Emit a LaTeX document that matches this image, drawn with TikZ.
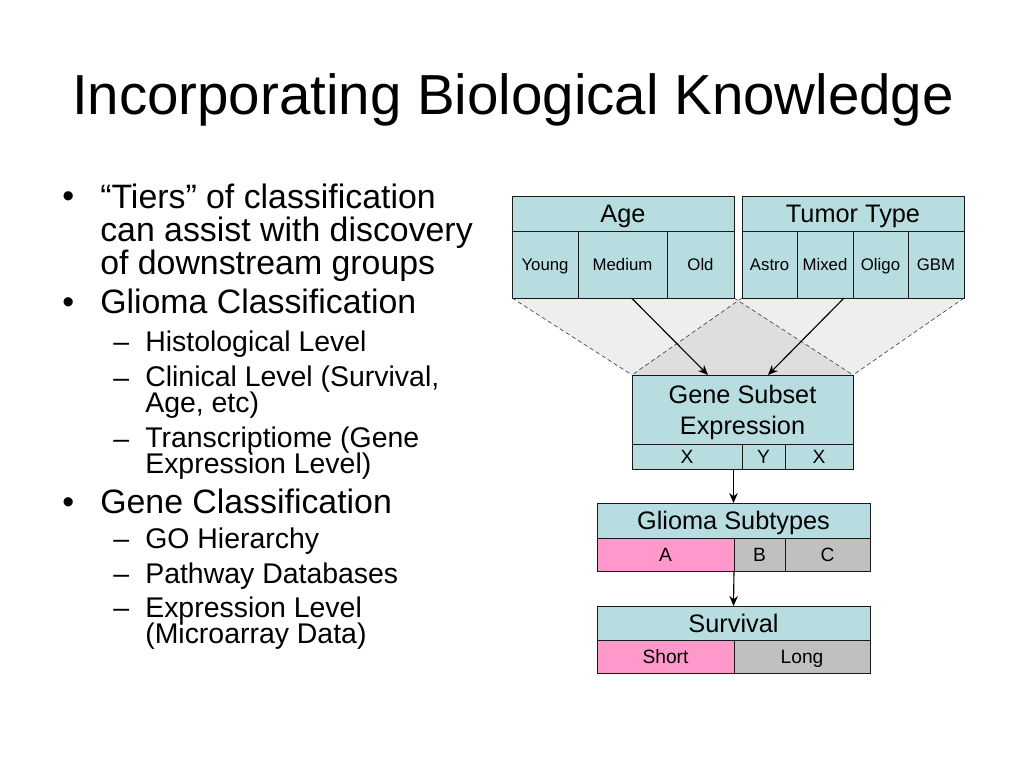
\documentclass[tikz,border=0pt]{standalone}
\usepackage{fontspec}
\setmainfont{Liberation Sans}
\usetikzlibrary{positioning,arrows.meta}
\definecolor{headcyan}{HTML}{B8DDE1}
\definecolor{cellpink}{HTML}{FF99CC}
\definecolor{cellgray}{HTML}{C0C0C0}
\def\pxu{0.703125pt}
\setlength{\lineskiplimit}{-20pt}

\begin{document}
\begin{tikzpicture}[x=\pxu,y=-\pxu,>={Stealth[length=7pt,width=6pt]},
    frame/.style={draw=black!90,line width=0.6pt,inner sep=0pt,outer sep=0pt},
    box/.style={frame,text depth=0pt},
    head/.style={box,fill=headcyan,text height=12.75pt,font=\fontsize{17.8}{20}\selectfont},
    cell/.style={box,fill=headcyan,text height=8.45pt,font=\fontsize{11.8}{14}\selectfont,minimum height=67*\pxu},
    part/.style={box,text height=9.67pt,font=\fontsize{13.5}{16}\selectfont},
    mainline/.style={anchor=base west,inner sep=0pt,align=left,font=\fontsize{23.8}{23.55}\selectfont},
    subline/.style={anchor=base west,inner sep=0pt,align=left,font=\fontsize{20}{17.9}\selectfont},
    funnel/.style={fill=black,opacity=0.065},
    guide/.style={draw=black!75,line width=0.45pt,dash pattern=on 3pt off 2pt}]
    \useasboundingbox[fill=white] (0,0) rectangle (1024,768);

    \node[anchor=base,inner sep=0pt,font=\fontsize{39.7}{44}\selectfont] (title) at (513,115) {Incorporating Biological Knowledge};

    % bullet list (multi-line nodes sit on their last baseline)
    \node[mainline] (dot1) at (62,208) {•};
    \node[mainline] (tiers) at (100,275) {“Tiers” of classification\\can assist with discovery\\of downstream groups};
    \node[mainline] (dot2) at (62,314) {•};
    \node[mainline] (glioma cls) at (100,314) {Glioma Classification};
    \node[subline] (dash1) at (113,351) {–};
    \node[subline] (histo) at (145,351) {Histological Level};
    \node[subline] (dash2) at (113,387) {–};
    \node[subline] (clinical) at (145,412) {Clinical Level (Survival,\\Age, etc)};
    \node[subline] (dash3) at (113,448) {–};
    \node[subline] (transcr) at (145,473) {Transcriptiome (Gene\\Expression Level)};
    \node[mainline] (dot3) at (62,513) {•};
    \node[mainline] (gene cls) at (100,513) {Gene Classification};
    \node[subline] (dash4) at (113,548) {–};
    \node[subline] (go) at (145,548) {GO Hierarchy};
    \node[subline] (dash5) at (113,583) {–};
    \node[subline] (pathway) at (145,583) {Pathway Databases};
    \node[subline] (dash6) at (113,617) {–};
    \node[subline] (exprlvl) at (145,643) {Expression Level\\(Microarray Data)};

    % age and tumor type
    \node[head,anchor=north west,minimum width=222*\pxu,minimum height=35*\pxu] (age) at (512,196) {Age};
    \node[cell,anchor=north west,minimum width=66*\pxu] (young) at (age.south west) {Young};
    \node[cell,right=0pt of young,minimum width=89*\pxu] (medium) {Medium};
    \node[cell,right=0pt of medium,minimum width=67*\pxu] (old) {Old};

    \node[head,anchor=north west,minimum width=222*\pxu,minimum height=35*\pxu] (tumor) at (742,196) {Tumor Type};
    \node[cell,anchor=north west,minimum width=55*\pxu] (astro) at (tumor.south west) {Astro};
    \node[cell,right=0pt of astro,minimum width=56*\pxu] (mixed) {Mixed};
    \node[cell,right=0pt of mixed,minimum width=55*\pxu] (oligo) {Oligo};
    \node[cell,right=0pt of oligo,minimum width=56*\pxu] (gbm) {GBM};

    % gene subset
    \node[frame,fill=headcyan,align=center,text depth=0pt,font=\fontsize{17.8}{21.8}\selectfont,anchor=north west,minimum width=221*\pxu,minimum height=69*\pxu] (gene) at (632,375) {Gene Subset\\Expression};
    \node[part,fill=headcyan,anchor=north west,minimum width=110*\pxu,minimum height=25*\pxu] (xa) at (gene.south west) {X};
    \node[part,fill=headcyan,right=0pt of xa,minimum width=43*\pxu,minimum height=25*\pxu] (yb) {Y};
    \node[part,fill=headcyan,right=0pt of yb,minimum width=68*\pxu,minimum height=25*\pxu] (xc) {X};

    % glioma subtypes
    \node[head,anchor=north west,minimum width=273*\pxu,minimum height=35*\pxu] (glioma) at (597,503) {Glioma Subtypes};
    \node[part,fill=cellpink,anchor=north west,minimum width=137*\pxu,minimum height=33*\pxu] (suba) at (glioma.south west) {A};
    \node[part,fill=cellgray,right=0pt of suba,minimum width=51*\pxu,minimum height=33*\pxu] (subb) {B};
    \node[part,fill=cellgray,right=0pt of subb,minimum width=85*\pxu,minimum height=33*\pxu] (subc) {C};

    % survival
    \node[head,anchor=north west,minimum width=273*\pxu,minimum height=34*\pxu] (survival) at (597,606) {Survival};
    \node[part,fill=cellpink,anchor=north west,minimum width=137*\pxu,minimum height=33*\pxu] (short) at (survival.south west) {Short};
    \node[part,fill=cellgray,right=0pt of short,minimum width=136*\pxu,minimum height=33*\pxu] (long) {Long};

    % funnels
    \fill[funnel] (young.south west) -- (old.south east) -- (gene.north east) -- (gene.north west) -- cycle;
    \fill[funnel] (astro.south west) -- (gbm.south east) -- (gene.north east) -- (gene.north west) -- cycle;
    \draw[guide] (young.south west) -- (gene.north west);
    \draw[guide] (old.south east) -- (gene.north east);
    \draw[guide] (astro.south west) -- (gene.north west);
    \draw[guide] (gbm.south east) -- (gene.north east);

    \path[->,line width=0.8pt]
        ([xshift=9*\pxu]medium.south) edge ([xshift=-34.5*\pxu]gene.north)
        ([xshift=19*\pxu]mixed.south) edge ([xshift=25.5*\pxu]gene.north)
        (glioma.north |- xa.south) edge (glioma.north)
        (suba.south east) edge (survival.north);
\end{tikzpicture}
\end{document}
